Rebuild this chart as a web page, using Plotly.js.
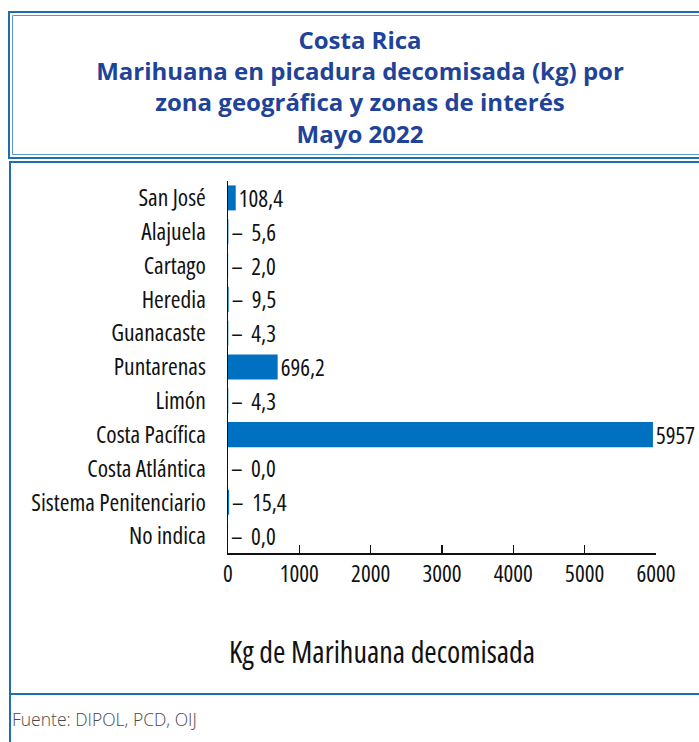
<!DOCTYPE html>
<html>
<head>
<meta charset="utf-8">
<script src="https://cdn.plot.ly/plotly-3.0.1.min.js"></script>
<style>
  html, body { margin: 0; padding: 0; background: #ffffff; }
  #chart { width: 699px; height: 742px; }
  /* condensed face for the axis / label texts (Open Sans variable width axis);
     global so Plotly's text-measuring tester uses it too */
  text[style*="Cnd"] { font-stretch: condensed !important; }
</style>
</head>
<body>
<div id="chart"></div>
<script>
// ---- Data ----
const categories = [
  "San José", "Alajuela", "Cartago", "Heredia", "Guanacaste", "Puntarenas",
  "Limón", "Costa Pacífica", "Costa Atlántica", "Sistema Penitenciario", "No indica"
];
const kgSeized = [108.4, 5.6, 2.0, 9.5, 4.3, 696.2, 4.3, 5957, 0.0, 15.4, 0.0];
const xTickValues = [0, 1000, 2000, 3000, 4000, 5000, 6000];
const xTickLabels = ["0", "1000", "2000", "3000", "4000", "5000", "6000"];

const titleLines = [
  "Costa Rica",
  "Marihuana en picadura decomisada (kg) por",
  "zona geográfica y zonas de interés",
  "Mayo 2022"
];
const axisTitle = "Kg de Marihuana decomisada";
const sourceNote = "Fuente: DIPOL, PCD, OIJ";

// ---- Labels (Spanish decimal comma; leader dash for tiny bars) ----
function fmt(v) {
  if (v >= 1000) return String(Math.round(v));
  return v.toFixed(1).replace(".", ",");
}
const labels = kgSeized.map(v => (v < 50 ? "–  " : "") + fmt(v));

// ---- Layout geometry (pixels) ----
const W = 699, H = 742;
const M = { l: 228, r: 43, t: 181, b: 189 };
const PW = W - M.l - M.r, PH = H - M.t - M.b;
const px = x => (x - M.l) / PW;
const py = y => (H - M.b - y) / PH;

const BLUE = "#1d6db1";
const BLUE_LIGHT = "#5c95c9";
const cond = "Open Sans Cnd, Open Sans, sans-serif";

const shapes = [
  { type: "rect", xref: "paper", yref: "paper", x0: px(9), x1: px(730), y0: py(12), y1: py(158),
    line: { color: BLUE, width: 2 } },
  { type: "rect", xref: "paper", yref: "paper", x0: px(12.5), x1: px(730), y0: py(15.5), y1: py(154.5),
    line: { color: BLUE_LIGHT, width: 1 } },
  { type: "line", xref: "paper", yref: "paper", x0: px(10), x1: px(730), y0: py(162), y1: py(162),
    line: { color: BLUE, width: 2 } },
  { type: "line", xref: "paper", yref: "paper", x0: px(10), x1: px(10), y0: py(161), y1: py(760),
    line: { color: BLUE, width: 2 } },
  { type: "line", xref: "paper", yref: "paper", x0: px(10), x1: px(730), y0: py(694), y1: py(694),
    line: { color: BLUE, width: 2 } }
];

const trace = {
  type: "bar",
  orientation: "h",
  y: categories,
  x: kgSeized,
  text: labels,
  textposition: "outside",
  constraintext: "none",
  cliponaxis: false,
  textfont: { family: cond, size: 23, color: "#111111" },
  marker: { color: "#0070C0" },
  hoverinfo: "skip"
};

const layout = {
  width: W, height: H,
  margin: M,
  paper_bgcolor: "#ffffff",
  plot_bgcolor: "#ffffff",
  showlegend: false,
  bargap: 0.26,
  title: {
    text: titleLines.join("<br>"),
    font: { family: "Open Sans, sans-serif", size: 24, color: "#1e4399", weight: "bold" },
    xref: "container", yref: "container",
    x: 360 / W, xanchor: "center",
    y: 1 - 49 / H, yanchor: "top"
  },
  xaxis: {
    range: [0, 6000],
    tickvals: xTickValues,
    ticktext: xTickLabels,
    ticks: "inside", ticklen: 8, tickwidth: 1.2, tickcolor: "#111111",
    showline: true, linecolor: "#111111", linewidth: 1.5,
    showgrid: false, zeroline: false,
    tickfont: { family: cond, size: 23, color: "#111111" },
    ticklabelstandoff: 0,
    fixedrange: true
  },
  yaxis: {
    type: "category",
    categoryorder: "array",
    categoryarray: categories,
    autorange: "reversed",
    ticks: "",
    showline: true, linecolor: "#111111", linewidth: 1.5,
    showgrid: false, zeroline: false,
    tickfont: { family: cond, size: 23.5, color: "#111111" },
    ticklabelstandoff: 16,
    fixedrange: true
  },
  shapes: shapes,
  annotations: [
    { text: axisTitle, xref: "paper", yref: "paper", x: px(382), y: py(651),
      xanchor: "center", yanchor: "middle", showarrow: false,
      font: { family: cond, size: 30, color: "#111111" } },
    { text: sourceNote, xref: "paper", yref: "paper", x: px(10), y: py(719),
      xanchor: "left", yanchor: "middle", showarrow: false,
      font: { family: "Open Sans, sans-serif", size: 17.5, color: "#4a4a4a", weight: 300 } }
  ]
};

Plotly.newPlot("chart", [trace], layout, { displayModeBar: false, staticPlot: true });
</script>
</body>
</html>
